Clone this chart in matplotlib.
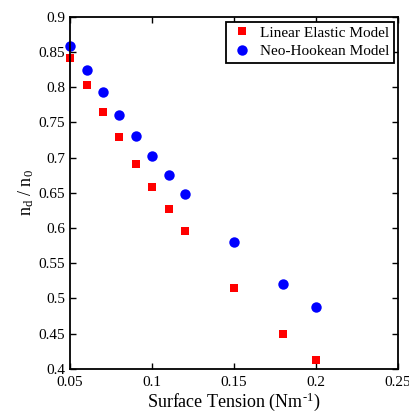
import numpy as np
import matplotlib.pyplot as plt

plt.rcParams['font.family'] = ['Liberation Serif', 'DejaVu Serif']
plt.rcParams['mathtext.fontset'] = 'custom'
plt.rcParams['mathtext.rm'] = 'Liberation Serif'
plt.rcParams['mathtext.it'] = 'Liberation Serif'

# surface tension values (N/m)
tension = [0.05, 0.06, 0.07, 0.08, 0.09, 0.10, 0.11, 0.12, 0.15, 0.18, 0.20]
linear_elastic = [0.841, 0.803, 0.765, 0.729, 0.691, 0.658, 0.627, 0.596, 0.515, 0.450, 0.413]
neo_hookean = [0.858, 0.825, 0.793, 0.760, 0.731, 0.703, 0.675, 0.649, 0.580, 0.521, 0.488]

xticks = [0.05, 0.1, 0.15, 0.2, 0.25]
xtick_labels = ['0.05', '0.1', '0.15', '0.2', '0.25']
yticks = [0.4, 0.45, 0.5, 0.55, 0.6, 0.65, 0.7, 0.75, 0.8, 0.85, 0.9]
ytick_labels = ['0.4', '0.45', '0.5', '0.55', '0.6', '0.65', '0.7', '0.75', '0.8', '0.85', '0.9']

fig = plt.figure(figsize=(4.1, 4.13), dpi=100)
ax = fig.add_axes([0.171, 0.107, 0.800, 0.852])

ax.plot(tension, linear_elastic, 's', color='red', markersize=6.2, markeredgewidth=0,
        label='Linear Elastic Model', clip_on=False)
ax.plot(tension, neo_hookean, 'o', color='blue', markersize=7.5, markeredgewidth=0,
        label='Neo-Hookean Model', clip_on=False)

ax.set_xlim(0.05, 0.25)
ax.set_ylim(0.4, 0.9)
ax.set_xticks(xticks)
ax.set_xticklabels(xtick_labels)
ax.set_yticks(yticks)
ax.set_yticklabels(ytick_labels)
ax.tick_params(direction='in', top=True, right=True, labelsize=11, length=4, width=1)
ax.tick_params(axis='x', pad=5)
for s in ax.spines.values():
    s.set_linewidth(1.3)

ax.set_xlabel('Surface Tension (Nm$^{\\text{-1}}$)', fontsize=13, labelpad=1)
ax.set_ylabel('n$_\\mathrm{d}$ / n$_\\mathrm{0}$', fontsize=13, labelpad=2)

leg = ax.legend(loc='upper right', fontsize=11, fancybox=False, edgecolor='black',
                framealpha=1, borderaxespad=0.3, handletextpad=0.4, borderpad=0.3,
                labelspacing=0.3, handlelength=1.5)
leg.get_frame().set_linewidth(1.3)

fig.savefig('out.png', dpi=100)
